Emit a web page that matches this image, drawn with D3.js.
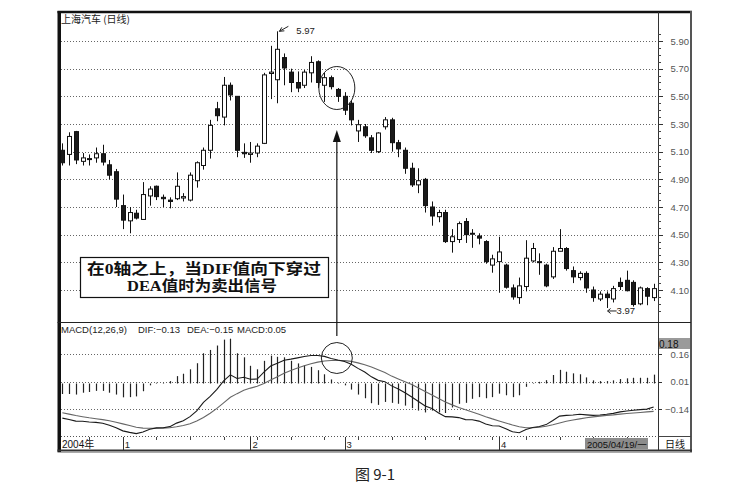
<!DOCTYPE html>
<html><head><meta charset="utf-8">
<script src="https://cdn.jsdelivr.net/npm/d3@7/dist/d3.min.js"></script>
<style>
body{margin:0;background:#fff}
svg{display:block}
text{font-family:"Liberation Sans",Arial,sans-serif}
</style>
</head><body>
<script>
// ---- data ----
const openP =[5.11,5.08,5.245,5.03,5.045,5.055,5.085,5.005,4.955,4.71,4.60,4.655,4.61,4.78,4.85,4.77,4.75,4.76,4.765,4.75,4.89,5.00,5.11,5.41,5.35,5.58,5.50,5.095,5.08,5.09,5.16,5.665,5.62,5.78,5.675,5.60,5.58,5.67,5.75,5.58,5.635,5.55,5.50,5.45,5.25,5.28,5.20,5.10,5.28,5.33,5.165,5.11,4.98,4.86,4.90,4.70,4.63,4.66,4.45,4.465,4.595,4.505,4.49,4.45,4.28,4.305,4.28,4.115,4.045,4.125,4.31,4.30,4.28,4.195,4.38,4.40,4.24,4.19,4.22,4.10,4.035,4.07,4.035,4.155,4.17,4.155,4.00,4.11,4.045];
const highP =[5.16,5.24,5.25,5.09,5.08,5.13,5.15,5.04,4.975,4.79,4.70,4.68,4.88,4.85,4.855,4.79,4.77,4.95,4.80,4.95,5.03,5.13,5.33,5.46,5.64,5.60,5.50,5.16,5.17,5.16,5.67,5.865,5.97,5.81,5.70,5.68,5.69,5.79,5.76,5.67,5.65,5.56,5.53,5.47,5.33,5.30,5.22,5.24,5.35,5.345,5.185,5.13,5.02,4.98,4.91,4.74,4.68,4.68,4.54,4.595,4.62,4.54,4.51,4.46,4.355,4.485,4.29,4.14,4.19,4.46,4.44,4.365,4.29,4.41,4.54,4.41,4.27,4.235,4.235,4.125,4.09,4.09,4.13,4.19,4.24,4.17,4.125,4.12,4.145];
const lowP  =[5.00,5.00,5.01,5.00,5.00,5.02,5.00,4.90,4.70,4.54,4.51,4.61,4.61,4.71,4.75,4.70,4.69,4.75,4.74,4.74,4.84,4.97,5.05,5.32,5.29,5.47,5.06,5.055,5.02,5.06,5.155,5.48,5.45,5.58,5.53,5.53,5.56,5.60,5.56,5.46,5.55,5.46,5.365,5.29,5.17,5.20,5.09,5.09,5.26,5.10,5.06,4.94,4.845,4.80,4.66,4.565,4.59,4.44,4.37,4.44,4.44,4.405,4.43,4.29,4.225,4.08,4.11,4.03,4.00,4.09,4.30,4.21,4.12,4.18,4.38,4.24,4.15,4.17,4.08,4.015,4.02,3.97,4.01,4.10,4.09,3.98,3.99,3.99,4.02];
const closeP=[5.02,5.21,5.04,5.055,5.05,5.085,5.025,4.93,4.757,4.605,4.66,4.62,4.79,4.83,4.775,4.76,4.74,4.85,4.775,4.93,5.02,5.11,5.29,5.36,5.58,5.51,5.11,5.085,5.09,5.14,5.655,5.675,5.84,5.705,5.60,5.56,5.675,5.745,5.60,5.635,5.57,5.50,5.40,5.33,5.295,5.215,5.11,5.235,5.33,5.165,5.12,4.98,4.86,4.89,4.71,4.635,4.66,4.45,4.485,4.58,4.50,4.51,4.475,4.305,4.325,4.375,4.12,4.05,4.13,4.33,4.40,4.305,4.13,4.38,4.40,4.255,4.195,4.22,4.115,4.045,4.07,4.045,4.11,4.125,4.095,3.995,4.115,4.055,4.11];

const dif =[-0.188,-0.195,-0.204,-0.205,-0.209,-0.211,-0.216,-0.227,-0.240,-0.257,-0.265,-0.272,-0.263,-0.248,-0.241,-0.240,-0.234,-0.215,-0.202,-0.180,-0.149,-0.102,-0.070,-0.032,0.014,0.047,0.027,0.034,0.023,0.024,0.062,0.095,0.110,0.126,0.132,0.139,0.146,0.152,0.152,0.147,0.136,0.127,0.119,0.104,0.082,0.062,0.036,0.017,0.010,-0.013,-0.030,-0.050,-0.073,-0.098,-0.122,-0.136,-0.160,-0.180,-0.181,-0.185,-0.196,-0.197,-0.204,-0.220,-0.229,-0.231,-0.246,-0.262,-0.267,-0.249,-0.239,-0.233,-0.223,-0.201,-0.177,-0.173,-0.171,-0.167,-0.170,-0.173,-0.171,-0.167,-0.162,-0.154,-0.149,-0.145,-0.142,-0.139,-0.127];
const dea =[-0.159,-0.166,-0.174,-0.180,-0.186,-0.191,-0.196,-0.202,-0.210,-0.219,-0.228,-0.237,-0.242,-0.243,-0.243,-0.242,-0.240,-0.235,-0.228,-0.218,-0.204,-0.184,-0.161,-0.135,-0.105,-0.075,-0.055,-0.037,-0.025,-0.015,0.000,0.019,0.037,0.055,0.070,0.084,0.096,0.107,0.116,0.122,0.125,0.125,0.124,0.120,0.112,0.102,0.089,0.075,0.060,0.040,0.025,0.010,-0.006,-0.024,-0.043,-0.062,-0.081,-0.100,-0.116,-0.130,-0.143,-0.155,-0.167,-0.180,-0.192,-0.203,-0.214,-0.225,-0.235,-0.240,-0.240,-0.237,-0.232,-0.224,-0.214,-0.205,-0.198,-0.192,-0.186,-0.181,-0.177,-0.173,-0.170,-0.166,-0.163,-0.160,-0.157,-0.154,-0.151];
const macd=[-0.057,-0.057,-0.060,-0.050,-0.046,-0.040,-0.040,-0.050,-0.060,-0.075,-0.074,-0.070,-0.042,-0.010,0.004,0.004,0.013,0.040,0.053,0.077,0.110,0.164,0.182,0.206,0.238,0.243,0.164,0.142,0.096,0.077,0.123,0.151,0.145,0.142,0.123,0.109,0.100,0.090,0.072,0.050,0.022,0.004,-0.010,-0.033,-0.060,-0.080,-0.107,-0.116,-0.100,-0.105,-0.110,-0.120,-0.134,-0.147,-0.157,-0.147,-0.157,-0.160,-0.130,-0.110,-0.105,-0.083,-0.074,-0.080,-0.074,-0.055,-0.064,-0.074,-0.064,-0.018,0.003,0.009,0.018,0.046,0.074,0.064,0.055,0.050,0.033,0.017,0.013,0.013,0.017,0.024,0.028,0.031,0.031,0.031,0.048];

const priceTicks=[5.90,5.70,5.50,5.30,5.10,4.90,4.70,4.50,4.30,4.10];
const macdTicks=[0.16,0.01,-0.14];
const macdTopLabel="0.18";
const monthLabels=["1","2","3","4"];
const monthIdx=[9,28,42,65];
const yearLabel="2004年";
const dateLabel="2005/04/19/一";
const peakLabel="5.97", lowLabel="3.97";
const noteLines=["在0轴之上，当DIF值向下穿过","DEA值时为卖出信号"];

// ---- layout ----
const W=736,H=485;
const L=59,R=657,AX=658,AXR=691;
const svg=d3.select("body").append("svg").attr("width",W).attr("height",H);
const n=openP.length;
const x=d3.scaleBand().domain(d3.range(n)).range([L,R]).paddingInner(0.32).paddingOuter(0.16);
const bw=x.bandwidth();
const xc=i=>x(i)+bw/2;
const yP=d3.scaleLinear().domain([4.10,5.90]).range([290,41]);
const yM=d3.scaleLinear().domain([-0.14,0.16]).range([409.3,354]);

const g=svg.append("g");
g.selectAll(".gp").data(priceTicks).join("line")
 .attr("x1",61).attr("x2",AX).attr("y1",d=>Math.round(yP(d))+0.5).attr("y2",d=>Math.round(yP(d))+0.5)
 .attr("stroke","#666").attr("stroke-dasharray","1,2");
g.selectAll(".gm").data(macdTicks).join("line")
 .attr("x1",61).attr("x2",AX).attr("y1",d=>Math.round(yM(d))+0.5).attr("y2",d=>Math.round(yM(d))+0.5)
 .attr("stroke","#666").attr("stroke-dasharray","1,2");
g.append("line").attr("x1",61).attr("x2",AX).attr("y1",436.5).attr("y2",436.5)
 .attr("stroke","#555").attr("stroke-dasharray","1,2");

// candles
const cg=svg.append("g");
const idx=d3.range(n);
cg.selectAll(".wick").data(idx).join("line")
 .attr("x1",i=>Math.round(xc(i))+0.5).attr("x2",i=>Math.round(xc(i))+0.5)
 .attr("y1",i=>yP(highP[i])).attr("y2",i=>yP(lowP[i]))
 .attr("stroke","#111").attr("stroke-width",1);
cg.selectAll(".body").data(idx).join("rect")
 .attr("x",i=>Math.round(xc(i))-2+0.5)
 .attr("width",4)
 .attr("y",i=>yP(Math.max(openP[i],closeP[i])))
 .attr("height",i=>Math.max(1,Math.abs(yP(openP[i])-yP(closeP[i]))))
 .attr("fill",i=>closeP[i]>=openP[i]?"#fff":"#1a1a1a")
 .attr("stroke","#111").attr("stroke-width",1);

// macd histogram
const mg=svg.append("g");
mg.selectAll(".hb").data(idx).join("line")
 .attr("x1",i=>Math.round(xc(i))+0.5).attr("x2",i=>Math.round(xc(i))+0.5)
 .attr("y1",yM(0)).attr("y2",i=>yM(macd[i]))
 .attr("stroke","#222").attr("stroke-width",1.2);
const line=arr=>d3.line().x(i=>xc(i)).y(i=>yM(arr[i]))(idx);
mg.append("path").attr("d",line(dea)).attr("fill","none").attr("stroke","#666").attr("stroke-width",1.1);
mg.append("path").attr("d",line(dif)).attr("fill","none").attr("stroke","#1a1a1a").attr("stroke-width",1.1);

// frame
const fr=svg.append("g");
fr.append("rect").attr("x",57.5).attr("y",11).attr("width",3.5).attr("height",441).attr("fill","#111");
fr.append("line").attr("x1",57.5).attr("x2",AXR+1).attr("y1",12).attr("y2",12).attr("stroke","#111").attr("stroke-width",2.5);
fr.append("line").attr("x1",AX+0.5).attr("x2",AX+0.5).attr("y1",12).attr("y2",451).attr("stroke","#333");
fr.append("line").attr("x1",AXR).attr("x2",AXR).attr("y1",11).attr("y2",452).attr("stroke","#555").attr("stroke-width",2);
fr.append("line").attr("x1",57.5).attr("x2",AXR).attr("y1",322.5).attr("y2",322.5).attr("stroke","#222");
fr.append("line").attr("x1",AX).attr("x2",AXR).attr("y1",436.5).attr("y2",436.5).attr("stroke","#444");
fr.append("line").attr("x1",57.5).attr("x2",AXR+1).attr("y1",450.5).attr("y2",450.5).attr("stroke","#333").attr("stroke-width",2);
fr.append("line").attr("x1",57.5).attr("x2",AXR+1).attr("y1",452.5).attr("y2",452.5).attr("stroke","#aaa").attr("stroke-width",1);

// right price axis
const minor=d3.range(3.95,6.0,0.05).filter(v=>yP(v)>14&&yP(v)<320);
fr.selectAll(".mt").data(minor).join("line")
 .attr("x1",AX).attr("x2",AX+3).attr("y1",d=>Math.round(yP(d))+0.5).attr("y2",d=>Math.round(yP(d))+0.5).attr("stroke","#444");
fr.selectAll(".pt").data(priceTicks).join("line")
 .attr("x1",AX).attr("x2",AX+5).attr("y1",d=>Math.round(yP(d))+0.5).attr("y2",d=>Math.round(yP(d))+0.5).attr("stroke","#333");
fr.selectAll(".pl").data(priceTicks).join("text")
 .attr("x",689).attr("y",d=>yP(d)+3.5).attr("text-anchor","end")
 .attr("font-size",9.5).attr("fill","#555").text(d=>d3.format(".2f")(d));

// macd axis
fr.selectAll(".mtk").data(macdTicks).join("line")
 .attr("x1",AX).attr("x2",AX+4).attr("y1",d=>Math.round(yM(d))+0.5).attr("y2",d=>Math.round(yM(d))+0.5).attr("stroke","#333");
fr.append("rect").attr("x",AX+1).attr("y",yM(0.16)-16).attr("width",AXR-AX-2).attr("height",11).attr("fill","#9a9a9a");
fr.append("text").attr("x",AX+1).attr("y",yM(0.16)-6.5).attr("font-size",10).attr("fill","#111").text(macdTopLabel);
fr.selectAll(".ml").data(macdTicks).join("text")
 .attr("x",689).attr("y",d=>yM(d)+3.5).attr("text-anchor","end")
 .attr("font-size",9.5).attr("fill","#555").text(d=>d3.format(".2f")(d));

// bottom axis row
fr.selectAll(".minx").data(idx.filter(i=>i%5===4)).join("line")
 .attr("x1",i=>Math.round(xc(i))+0.5).attr("x2",i=>Math.round(xc(i))+0.5).attr("y1",437).attr("y2",440).attr("stroke","#444");
fr.selectAll(".mx").data(monthIdx).join("line")
 .attr("x1",i=>Math.round(xc(i))+0.5).attr("x2",i=>Math.round(xc(i))+0.5).attr("y1",437).attr("y2",450).attr("stroke","#333");
fr.selectAll(".mxl").data(monthIdx).join("text")
 .attr("x",i=>xc(i)+2).attr("y",448).attr("font-size",9.5).attr("fill","#222").text((d,k)=>monthLabels[k]);
fr.append("text").attr("x",62).attr("y",448).attr("font-size",10).attr("fill","#111")
 .style("font-family","'Liberation Sans','Noto Sans CJK SC',sans-serif").text(yearLabel);
fr.append("rect").attr("x",585).attr("y",438).attr("width",63).attr("height",11).attr("fill","#8c8c8c");
fr.append("text").attr("x",587).attr("y",447.5).attr("font-size",9.5).attr("fill","#111")
 .style("font-family","'Liberation Sans','Noto Sans CJK SC',sans-serif").text(dateLabel);
fr.append("text").attr("x",675).attr("y",448).attr("text-anchor","middle").attr("font-size",10).attr("fill","#111")
 .style("font-family","'Noto Sans CJK SC',sans-serif").text("日线");

// titles
svg.append("text").attr("x",61).attr("y",23).attr("font-size",10).attr("fill","#222")
 .style("font-family","'Noto Sans CJK SC',sans-serif").text("上海汽车 (日线)");
const f2=d3.format(".2f");
const mt=svg.append("text").attr("y",333).attr("font-size",9.5).attr("fill","#222");
[["MACD(12,26,9)",61],["DIF:"+f2(dif[n-1]),138],["DEA:"+f2(dea[n-1]),187],["MACD:"+f2(macd[n-1]),237]]
 .forEach(([t,xx])=>mt.append("tspan").attr("x",xx).text(t));

// annotations
const ann=svg.append("g");
const ip=highP.indexOf(d3.max(highP));
const il=lowP.indexOf(d3.min(lowP));
const px=xc(ip)+1, py=yP(highP[ip]);
ann.append("path").attr("d",`M${px+10},${py-5}L${px+1},${py}M${px+1},${py}l5,-0.5M${px+1},${py}l2.5,-4`)
 .attr("stroke","#222").attr("fill","none");
ann.append("text").attr("x",px+18).attr("y",py+3).attr("font-size",9.5).attr("fill","#222").text(peakLabel);
const lx=xc(il)+1, ly=yP(lowP[il])+3;
ann.append("path").attr("d",`M${lx+9},${ly}L${lx},${ly}M${lx},${ly}l3,-2.5M${lx},${ly}l3,2.5`)
 .attr("stroke","#222").attr("fill","none");
ann.append("text").attr("x",lx+9).attr("y",ly+3.5).attr("font-size",9.5).attr("fill","#222").text(lowLabel);

const cx=xc(41)-1;
ann.append("ellipse").attr("cx",cx).attr("cy",88).attr("rx",18).attr("ry",21.5).attr("fill","none").attr("stroke","#222");
ann.append("circle").attr("cx",cx).attr("cy",358).attr("r",15.5).attr("fill","none").attr("stroke","#222");
ann.append("line").attr("x1",cx).attr("x2",cx).attr("y1",336).attr("y2",140).attr("stroke","#111").attr("stroke-width",1.2);
ann.append("path").attr("d",`M${cx},130L${cx-4},142L${cx+4},142Z`).attr("fill","#111");

// note box
ann.append("rect").attr("x",80.5).attr("y",257.5).attr("width",248).attr("height",40).attr("fill","#fff").attr("stroke","#111").attr("stroke-width",1.2);
const noteFont="'Liberation Serif','Noto Sans CJK SC',serif";
ann.append("text").attr("x",87).attr("y",273.5).attr("font-size",15).attr("font-weight","bold").attr("fill","#111")
 .attr("textLength",234).attr("lengthAdjust","spacingAndGlyphs")
 .style("font-family",noteFont).text(noteLines[0]);
ann.append("text").attr("x",127).attr("y",291).attr("font-size",15).attr("font-weight","bold").attr("fill","#111")
 .attr("textLength",150).attr("lengthAdjust","spacingAndGlyphs")
 .style("font-family",noteFont).text(noteLines[1]);

// caption
svg.append("text").attr("x",375).attr("y",480).attr("text-anchor","middle").attr("font-size",15).attr("fill","#222")
 .style("font-family","'Noto Sans CJK SC',serif").text("图 9-1");
</script>
</body></html>
